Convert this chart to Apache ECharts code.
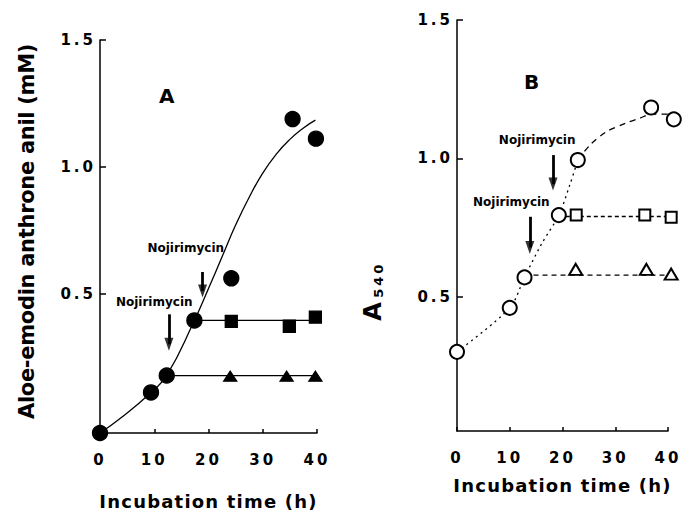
<!DOCTYPE html>
<html>
<head>
<meta charset="utf-8">
<script src="https://cdn.jsdelivr.net/npm/echarts@6.0.0/dist/echarts.min.js"></script>
<style>
  html, body { margin: 0; padding: 0; background: #fff; }
  #chart { width: 683px; height: 515px; }
  #chart text[style*="15px"] { letter-spacing: 3px; }
  #chart text[style*="18px"] { letter-spacing: 1.2px; }
  #chart text[style*="13px"] { letter-spacing: 3px; }
  #chart text[style*="21px"] { letter-spacing: -0.3px; }
</style>
</head>
<body>
<div id="chart"></div>
<script>
// ---------- data ----------
const timeTicks = [0, 10, 20, 30, 40];
const yTicks = [0.5, 1.0, 1.5];
const xTitle = 'Incubation time (h)';
const yTitleA = 'Aloe-emodin anthrone anil (mM)';
const noteText = 'Nojirimycin';

// Panel A (filled symbols, solid lines)
const circlesA = [[0, -0.05], [9.4, 0.11], [12.3, 0.177], [17.4, 0.394], [24.2, 0.56], [35.5, 1.188], [39.8, 1.111]];
const squaresA = [[24.2, 0.39], [34.9, 0.371], [39.7, 0.407]];
const trianglesA = [[24.0, 0.174], [34.4, 0.174], [39.7, 0.174]];
const curveA = [[0, -0.05], [4, 0.012], [9.4, 0.11], [12.3, 0.177], [17.4, 0.394], [20, 0.52], [22.5, 0.645],
  [25, 0.77], [27.5, 0.88], [30, 0.975], [32.5, 1.05], [35, 1.108], [37.5, 1.153], [39.7, 1.184]];
const squareLineA = [[17.4, 0.394], [39.7, 0.394]];
const triangleLineA = [[12.3, 0.176], [40, 0.176]];
const arrowsA = [[18.9, 0.585, 0.51], [12.7, 0.418, 0.30]];   // x, tail, head centre
const notesA = [[15.8, 0.678], [10.0, 0.467]];

// Panel B (open symbols, dotted / dashed lines)
const circlesB = [[0, 0.301], [10, 0.46], [12.8, 0.57], [19.3, 0.795], [22.9, 0.994], [36.8, 1.184], [41.1, 1.141]];
const squaresB = [[22.6, 0.795], [35.6, 0.795], [40.6, 0.787]];
const trianglesB = [[22.5, 0.599], [35.9, 0.599], [40.6, 0.582]];
const curveBdotted = [[0, 0.301], [10, 0.46], [12.8, 0.57], [16, 0.69], [19.3, 0.795], [21.4, 0.905], [22.9, 0.994]];
const curveBdashed = [[22.9, 0.994], [25.2, 1.048], [28.3, 1.096], [32.1, 1.128], [34.6, 1.145], [37, 1.16], [41, 1.16]];
const squareLineB = [[19.3, 0.79], [41, 0.79]];
const triangleLineB = [[12.8, 0.578], [41, 0.578]];
const arrowsB = [[18.2, 1.012, 0.907], [13.8, 0.789, 0.678]];
const notesB = [[15.2, 1.066], [10.3, 0.843]];

// ---------- chart ----------
const FONT = 'DejaVu Sans';
const black = '#000';

function xAxis(gi, nameGap) {
  return {
    gridIndex: gi, type: 'value', min: 0, max: 40, interval: 10,
    axisLine: { show: true, onZero: false, lineStyle: { color: black, width: 1.5 } },
    axisTick: { show: true, inside: true, length: 4, lineStyle: { color: black, width: 1.5 } },
    axisLabel: { show: true, margin: 19, color: black, fontSize: 15, fontWeight: 'bold', fontFamily: FONT,
      customValues: timeTicks },
    splitLine: { show: false },
    name: xTitle, nameLocation: 'middle', nameGap: nameGap,
    nameTextStyle: { color: black, fontSize: 18, fontWeight: 'bold', fontFamily: FONT, lineHeight: 18 }
  };
}
function yAxis(gi, min, extra) {
  return Object.assign({
    gridIndex: gi, type: 'value', min: min, max: 1.5,
    axisLine: { show: true, onZero: false, lineStyle: { color: black, width: 1.5 } },
    axisTick: { show: true, inside: true, length: 6, lineStyle: { color: black, width: 1.5 }, customValues: yTicks },
    axisLabel: { show: true, margin: 4, color: black, fontSize: 15, fontWeight: 'bold', fontFamily: FONT,
      customValues: yTicks, formatter: v => v.toFixed(1) },
    splitLine: { show: false }
  }, extra);
}
function marks(name, data, gi, symbol, size, extra) {
  return Object.assign({
    name: name, type: 'scatter', xAxisIndex: gi, yAxisIndex: gi, data: data,
    symbol: symbol, symbolSize: size, clip: false, z: 5, silent: true,
    itemStyle: { color: black, borderColor: black, borderWidth: 1.3, opacity: 1 }
  }, extra || {});
}
function curve(name, data, gi, type, extra) {
  return Object.assign({
    name: name, type: 'line', xAxisIndex: gi, yAxisIndex: gi, data: data,
    smooth: 0.3, symbol: 'none', showSymbol: false, clip: false, z: 2, silent: true,
    lineStyle: { color: black, width: 1.3, type: type }
  }, extra || {});
}
// arrow shafts and labels, attached to a curve series
function annotations(arrows, notes) {
  return {
    markLine: {
      silent: true, symbol: ['none', 'none'],
      lineStyle: { color: black, width: 2.8, type: 'solid' },
      label: { show: false },
      data: arrows.map(a => [{ coord: [a[0], a[1]] }, { coord: [a[0], a[2]] }])
    },
    markPoint: {
      silent: true, symbol: 'circle', symbolSize: 0,
      label: { show: true, position: 'inside', formatter: noteText, color: black,
        fontSize: 12, fontWeight: 'bold', fontFamily: FONT },
      data: notes.map(p => ({ coord: p, value: 0 }))
    }
  };
}
// arrow heads
function heads(name, arrows, gi) {
  return marks(name, arrows.map(a => [a[0], a[2]]), gi, 'triangle', [9, 13],
    { symbolRotate: 180, z: 4, itemStyle: { color: black, borderWidth: 0 } });
}

const chart = echarts.init(document.getElementById('chart'), null, { renderer: 'svg' });
chart.setOption({
  backgroundColor: '#fff',
  animation: false,
  grid: [
    { left: 100, top: 40, width: 217, height: 393 },
    { left: 457, top: 20, width: 211, height: 411 }
  ],
  xAxis: [xAxis(0, 59), xAxis(1, 45)],
  yAxis: [
    yAxis(0, -0.05, {
      name: yTitleA, nameLocation: 'middle', nameGap: 63,
      nameTextStyle: { color: black, fontSize: 21, fontWeight: 'bold', lineHeight: 21,
        fontFamily: FONT, padding: [0, 0, 0, 10] }
    }),
    yAxis(1, 0.015, {
      name: '{a|A}{s|540}', nameLocation: 'middle', nameGap: 72,
      nameTextStyle: { color: black, padding: [0, 136, 0, 0],
        rich: {
          a: { fontSize: 24, fontWeight: 'bold', fontFamily: FONT, lineHeight: 24, verticalAlign: 'top',
            color: black, padding: [0, 9, 0, 0] },
          s: { fontSize: 13, fontWeight: 'bold', fontFamily: FONT, lineHeight: 8, verticalAlign: 'bottom', color: black }
        } }
    })
  ],
  graphic: [
    { type: 'text', left: 159, top: 86, style: { text: 'A', fontSize: 20, fontWeight: 'bold', fontFamily: FONT, fill: black } },
    { type: 'text', left: 524, top: 72, style: { text: 'B', fontSize: 20, fontWeight: 'bold', fontFamily: FONT, fill: black } }
  ],
  series: [
    // Panel A
    curve('fitA', curveA, 0, 'solid', Object.assign({ smooth: 0.5 }, annotations(arrowsA, notesA))),
    curve('squareLineA', squareLineA, 0, 'solid', { smooth: false }),
    curve('triangleLineA', triangleLineA, 0, 'solid', { smooth: false }),
    heads('arrowHeadsA', arrowsA, 0),
    marks('circlesA', circlesA, 0, 'circle', 15),
    marks('squaresA', squaresA, 0, 'rect', 12),
    marks('trianglesA', trianglesA, 0, 'triangle', [13, 10]),
    // Panel B
    curve('fitBdotted', curveBdotted, 1, [2, 4], annotations(arrowsB, notesB)),
    curve('fitBdashed', curveBdashed, 1, [6, 5]),
    curve('squareLineB', squareLineB, 1, [4, 3], { smooth: false }),
    curve('triangleLineB', triangleLineB, 1, [5, 4], { smooth: false }),
    heads('arrowHeadsB', arrowsB, 1),
    marks('circlesB', circlesB, 1, 'emptyCircle', 14),
    marks('squaresB', squaresB, 1, 'emptyRect', 11),
    marks('trianglesB', trianglesB, 1, 'emptyTriangle', [13, 11])
  ]
});
</script>
</body>
</html>
